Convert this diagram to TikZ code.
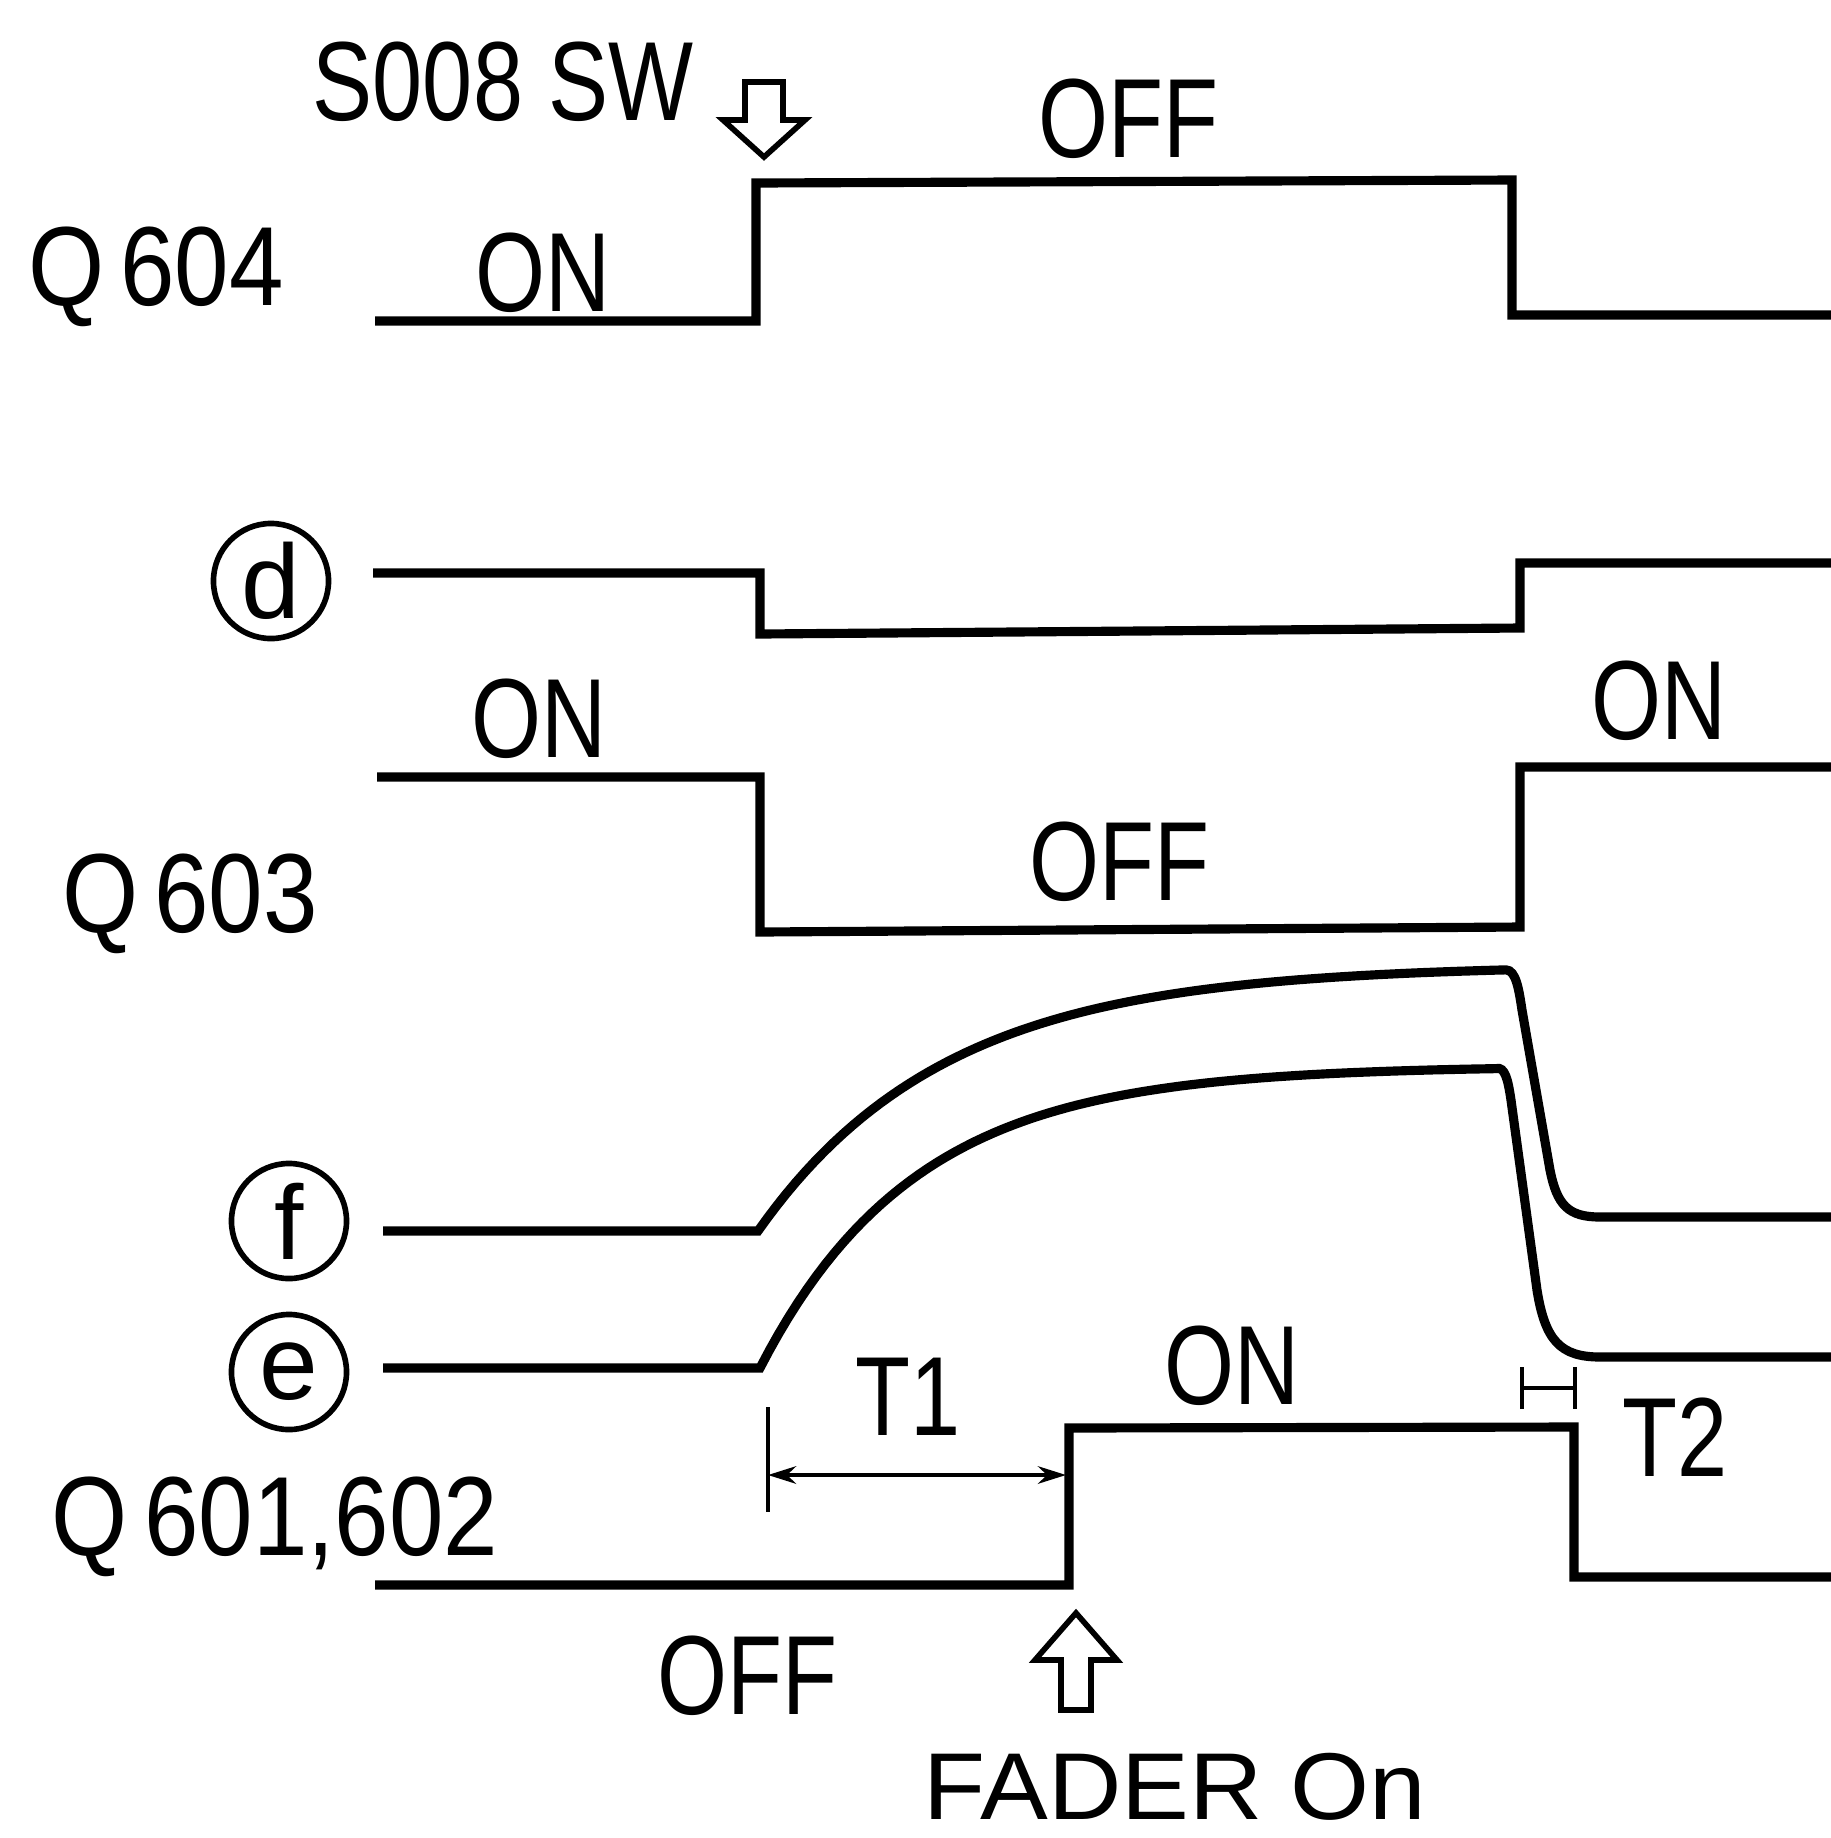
\documentclass[tikz,border=0pt]{standalone}
\usepackage{fontspec}
\setmainfont{Liberation Sans}
\usetikzlibrary{positioning,arrows.meta}

\begin{document}
\begin{tikzpicture}[>=Stealth,x=0.01cm,y=-0.01cm,
	wave/.style={line width=2.6pt},
	dim/.style={line width=1.1pt},
	hollow/.style={line width=1.6pt, line join=miter},
	lbl/.style={font=\fontsize{32}{36}\selectfont, xscale=.8, inner sep=0pt},
	sig/.style={font=\fontsize{32}{36}\selectfont, xscale=.87, inner sep=0pt},
	circ/.style={draw, circle, line width=1.6pt, minimum size=1.15cm,%
		inner sep=0pt, font=\fontsize{30}{34}\selectfont}]
	\useasboundingbox (0,0) rectangle (1831,1838);
	
	% signal names
	\node[sig] (q604) at (156,277) {Q\,604};
	\node[sig] (q603) at (190,904) {Q\,603};
	\node[sig] (q601) at (275,1527) {Q\,601,602};
	\foreach \n/\x/\y in {d/271/581, f/289/1221, e/289/1372}
		\node[circ] (\n) at (\x,\y) {\n};
	
	% levels
	\node[lbl] (sw) at (503,82) {S008 SW};
	\node[lbl] (on1) at (543,273) {ON};
	\node[lbl] (off1) at (1128,119) {OFF};
	\node[lbl] (on2) at (539,719) {ON};
	\node[lbl] (off2) at (1119,862) {OFF};
	\node[lbl] (on3) at (1659,701) {ON};
	\node[lbl] (on4) at (1232,1366) {ON};
	\node[lbl] (off3) at (747,1676) {OFF};
	\node[lbl] (t1) at (908,1397) {T1};
	\node[lbl] (t2) at (1675,1437) {T2};
	\node[inner sep=0pt, font=\fontsize{27}{30}\selectfont, xscale=1.07] (fader) at (1175,1787) {FADER On};
	
	% square waves
	\draw[wave] (375,321) -- (756,321) -- (756,183) -- (1512,180) -- (1512,315) -- (1831,315);
	\draw[wave] (373,573) -- (760,573) -- (760,634) -- (1520,628) -- (1520,563) -- (1831,563);
	\draw[wave] (377,777) -- (760,777) -- (760,932) -- (1520,927) -- (1520,767) -- (1831,767);
	\draw[wave] (375,1585) -- (1069,1585) -- (1069,1428) -- (1574,1427) -- (1574,1577) -- (1831,1577);
	
	% f and e
	\draw[wave] (383,1231) -- (758,1231)
		-- plot[domain=758:1506, samples=80] (\x,{965+266*exp(-(\x-758)/187)})
		.. controls (1516,970) and (1519,990) .. (1522,1010) -- (1550,1170)
		.. controls (1557,1205) and (1568,1217) .. (1600,1217) -- (1831,1217);
	\draw[wave] (383,1368) -- (760,1368)
		-- plot[domain=760:1496, samples=80] (\x,{1066+302*exp(-(\x-760)/155)})
		.. controls (1505,1066) and (1508,1080) .. (1511,1100) -- (1537,1290)
		.. controls (1545,1340) and (1560,1357) .. (1600,1357) -- (1831,1357);
	
	% T1, T2
	\coordinate (t1l) at (768,1475);
	\coordinate (t1r) at (1066,1475);
	\draw[dim] (t1l) ++(0,-68) -- ++(0,105);
	\draw[dim,{Stealth[length=8pt,width=5pt]}-{Stealth[length=8pt,width=5pt]}] (t1l) -- (t1r);
	\coordinate (t2l) at (1520,1388);
	\coordinate (t2r) at (1577,1388);
	\draw[dim,{Bar[width=12pt]}-{Bar[width=12pt]}] (t2l) -- (t2r);
	
	% hollow arrows
	\coordinate (swtip) at (764,157);
	\draw[hollow] (swtip) -- ++(-41,-37) -- ++(22,0) -- ++(0,-38) -- ++(38,0) -- ++(0,38) -- ++(22,0) -- cycle;
	\coordinate (fadertip) at (1076,1613);
	\draw[hollow] (fadertip) -- ++(-41,47) -- ++(26,0) -- ++(0,50) -- ++(30,0) -- ++(0,-50) -- ++(26,0) -- cycle;
\end{tikzpicture}
\end{document}
